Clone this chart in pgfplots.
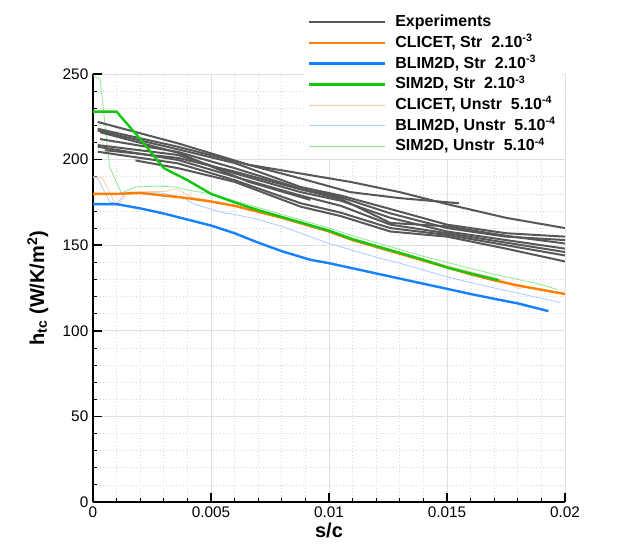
\documentclass[border=0pt]{standalone}
\usepackage{fontspec}
\setmainfont{Liberation Sans}
\usepackage{pgfplots}
\pgfplotsset{compat=1.18}
\definecolor{expc}{HTML}{575757}
\definecolor{corange}{HTML}{FF8000}
\definecolor{cblue}{HTML}{1482FF}
\definecolor{cgreen}{HTML}{10C810}
\definecolor{lorange}{HTML}{FFC8A0}
\definecolor{lblue}{HTML}{A6CCFF}
\definecolor{lgreen}{HTML}{90E890}
\begin{document}
\begin{tikzpicture}
\path[use as bounding box] (-69.75pt,-42pt) rectangle (405pt,376.5pt);
\begin{axis}[
  at={(0pt,0pt)}, anchor=south west,
  scale only axis, width=354pt, height=321pt,
  xmin=0, xmax=0.02, ymin=0, ymax=250,
  axis lines=left, axis line style={-, line width=1.4pt, black},
  xtick={0,0.005,0.01,0.015,0.02},
  xticklabels={0,0.005,0.01,0.015,0.02},
  scaled x ticks=false,
  ytick={0,50,100,150,200,250},
  minor x tick num=4, minor y tick num=4,
  tick align=inside,
  major tick length=6.5pt, minor tick length=3pt,
  every major tick/.style={line width=1.2pt, black},
  every minor tick/.style={line width=0.6pt, black},
  grid=both,
  major grid style={line width=0.5pt, black!12},
  minor grid style={line width=0.5pt, black!15, dotted},
  ticklabel style={font=\fontsize{11.5}{13}\selectfont},
  /pgf/number format/assume math mode=true,
  xlabel={\textbf{s/c}},
  ylabel={\textbf{h\textsubscript{tc} (W/K/m\textsuperscript{2})}},
  label style={font=\fontsize{15}{17}\selectfont\bfseries},
  xlabel style={yshift=3pt},
  ylabel style={yshift=4pt},
  legend image code/.code={\draw[#1] (0pt,0pt) -- (57pt,0pt); \path (62pt,0pt);},
  legend style={at={(0.9936,1.151)}, anchor=north east, draw=none, fill=white,
    font=\fontsize{12}{14}\selectfont\bfseries,
    legend cell align=left, row sep=0.5pt,
    nodes={inner sep=1.5pt, text height=9.5pt, text depth=2.5pt},
    /tikz/every even column/.append style={column sep=10pt}},
]
% thin unstructured lines
\addplot[lorange, line width=0.6pt, forget plot] coordinates {
(0,190) (0.0004,189.5) (0.001,172.5) (0.0015,181) (0.0031,181.5) (0.0035,183) (0.0043,177.5) (0.005,176)
(0.006,172.5) (0.007,169.5) (0.008,166) (0.009,162.5) (0.01,158.5) (0.011,154) (0.012,150) (0.013,146)
(0.014,142) (0.015,138) (0.016,134.5) (0.017,131) (0.0173,129.7) (0.018,124.8) (0.0184,125.4) (0.0189,124.3)
(0.019,124) (0.02,121.5)};
\addplot[lblue, line width=0.6pt, forget plot] coordinates {
(0,189.5) (0.0002,189) (0.0007,175.5) (0.001,174) (0.0014,181) (0.0029,180.5) (0.0038,178) (0.0043,174)
(0.005,171) (0.0055,169) (0.006,168) (0.007,165) (0.008,161) (0.009,156) (0.01,151) (0.011,147)
(0.012,143) (0.013,139.5) (0.014,135.5) (0.015,131.5) (0.016,128.2) (0.017,125) (0.018,122)
(0.019,119) (0.0198,116.5)};
\addplot[lgreen, line width=0.6pt, forget plot] coordinates {
(0,249) (0.0003,247) (0.0007,196) (0.0012,180.5) (0.0018,184) (0.0027,184.5) (0.0035,184) (0.0039,182.5)
(0.005,180) (0.006,176) (0.007,172) (0.008,168) (0.009,164) (0.01,160) (0.011,155.5) (0.012,151.5)
(0.013,147.5) (0.014,143.5) (0.015,140) (0.016,136.5) (0.017,133) (0.018,130) (0.019,127) (0.0197,124)};
% experiments
\addplot[expc, line width=1.5pt, forget plot] coordinates {
(0.0002,222) (0.0036,209.5) (0.0066,197) (0.0096,190) (0.0109,187) (0.013,181) (0.015,174) (0.0175,166) (0.02,160)};
\addplot[expc, line width=1.5pt, forget plot] coordinates {
(0.0002,218) (0.0036,207.5) (0.006,199) (0.0088,189) (0.0109,181) (0.013,177.5) (0.0155,174.5)};
\addplot[expc, line width=1.5pt, forget plot] coordinates {
(0.0003,216) (0.0036,204) (0.0066,187) (0.0092,176.5)};
\addplot[expc, line width=1.5pt, forget plot] coordinates {
(0.0002,217) (0.0036,206) (0.006,198) (0.0088,184) (0.0105,179) (0.0125,171.5) (0.015,162) (0.0175,157) (0.02,155)};
\addplot[expc, line width=1.5pt, forget plot] coordinates {
(0.0003,212) (0.0036,204.5) (0.006,195) (0.0088,183) (0.0105,178) (0.0126,168.6) (0.015,160) (0.0175,155) (0.02,153)};
\addplot[expc, line width=1.5pt, forget plot] coordinates {
(0.0002,208.5) (0.0036,202.7) (0.006,192) (0.0088,181) (0.0105,176) (0.0126,166) (0.015,158) (0.0175,153) (0.02,148)};
\addplot[expc, line width=1.5pt, forget plot] coordinates {
(0.0002,207.5) (0.0036,199.8) (0.006,190) (0.0088,179) (0.0105,173) (0.0126,162) (0.015,157) (0.0175,151.5) (0.02,146)};
\addplot[expc, line width=1.5pt, forget plot] coordinates {
(0.0002,204.6) (0.0036,197.8) (0.006,188) (0.0088,174.5) (0.0105,169) (0.0126,160) (0.015,156) (0.0175,150) (0.02,144)};
\addplot[expc, line width=1.5pt, forget plot] coordinates {
(0.0018,199.5) (0.0036,195) (0.006,187) (0.0088,172.5) (0.0105,167) (0.0126,158) (0.015,155) (0.0175,148) (0.02,140.5)};
\addplot[expc, line width=1.5pt, forget plot] coordinates {
(0.0005,205.5) (0.0036,201) (0.006,193) (0.0088,182.6) (0.0105,177) (0.0126,163) (0.015,161) (0.0175,155.5) (0.02,151)};
% thick structured lines
\addplot[corange, line width=1.8pt, forget plot] coordinates {
(0,180) (0.001,180) (0.002,180.5) (0.003,179) (0.004,177.5) (0.005,175.5) (0.006,173) (0.007,169.5)
(0.008,166) (0.009,162) (0.01,158) (0.011,153) (0.012,149) (0.013,145) (0.014,141) (0.015,137)
(0.016,133) (0.017,129.5) (0.018,126.5) (0.019,124) (0.02,121.5)};
\addplot[cblue, line width=1.8pt, forget plot] coordinates {
(0,174) (0.001,174) (0.002,171.5) (0.003,168.5) (0.004,165) (0.005,161.5) (0.006,157) (0.007,151.5)
(0.008,146.5) (0.0092,141.5) (0.01,139.5) (0.011,136.5) (0.012,133.5) (0.013,130.5) (0.014,127.5)
(0.015,124.5) (0.016,121.5) (0.017,118.7) (0.018,116) (0.0193,111.5)};
\addplot[cgreen, line width=1.8pt, forget plot] coordinates {
(0,228) (0.001,228) (0.002,212) (0.003,195) (0.004,188) (0.005,180) (0.006,175) (0.007,170.5)
(0.008,166.5) (0.009,162.5) (0.01,158.5) (0.011,153.5) (0.012,149.5) (0.013,145.5) (0.014,141.5)
(0.015,137) (0.016,133.5) (0.0172,129.5)};
% legend
\addlegendimage{expc, line width=1.5pt}
\addlegendentry{Experiments}
\addlegendimage{corange, line width=1.8pt}
\addlegendentry{CLICET, Str\ \ 2.10\textsuperscript{-3}}
\addlegendimage{cblue, line width=1.8pt}
\addlegendentry{BLIM2D, Str\ \ 2.10\textsuperscript{-3}}
\addlegendimage{cgreen, line width=1.8pt}
\addlegendentry{SIM2D, Str\ \ 2.10\textsuperscript{-3}}
\addlegendimage{lorange, line width=0.6pt}
\addlegendentry{CLICET, Unstr\ \ 5.10\textsuperscript{-4}}
\addlegendimage{lblue, line width=0.6pt}
\addlegendentry{BLIM2D, Unstr\ \ 5.10\textsuperscript{-4}}
\addlegendimage{lgreen, line width=0.6pt}
\addlegendentry{SIM2D, Unstr\ \ 5.10\textsuperscript{-4}}
\end{axis}
\end{tikzpicture}
\end{document}
